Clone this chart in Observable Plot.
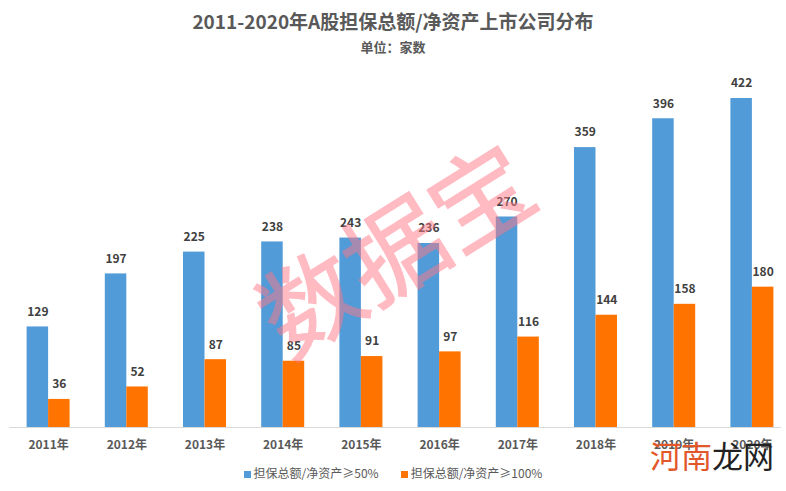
<!DOCTYPE html>
<html><head><meta charset="utf-8">
<script src="https://cdn.jsdelivr.net/npm/d3@7"></script>
<script src="https://cdn.jsdelivr.net/npm/@observablehq/plot@0.6"></script>
<style>
body{margin:0;background:#fff;font-family:"Noto Sans CJK SC","Noto Sans",sans-serif;}
#wrap{position:relative;width:786px;height:491px;overflow:hidden;}
#title{position:absolute;top:7px;left:0;width:786px;text-align:center;font-size:19px;font-weight:bold;color:#595959;}
#sub{position:absolute;top:37px;left:0;width:786px;text-align:center;font-size:13px;font-weight:bold;color:#595959;}
#chart{position:absolute;top:70px;left:0;}
#legend{position:absolute;top:464px;left:0;width:786px;text-align:center;font-size:12px;color:#595959;}
#legend span.sw{display:inline-block;width:7px;height:7px;margin-right:3px;vertical-align:0px;}
#legend .item{display:inline-block;margin:0 11px;}
#wm{position:absolute;left:239px;top:282px;font-size:100px;line-height:1;color:rgb(255,120,135);opacity:0.5;-webkit-text-stroke:1.2px rgb(255,120,135);transform:rotate(-32deg);transform-origin:left top;white-space:nowrap;font-weight:400;}
#wm2{position:absolute;left:650px;top:432px;font-size:31px;white-space:nowrap;}
</style></head>
<body><div id="wrap">
<div id="title">2011-2020年A股担保总额/净资产上市公司分布</div>
<div id="sub">单位：家数</div>
<div id="chart"></div>
<div id="legend"><span class="item"><span class="sw" style="background:#519BD8"></span>担保总额/净资产≥50%</span><span class="item"><span class="sw" style="background:#FF7300"></span>担保总额/净资产≥100%</span></div>
<div id="wm">数据宝</div>
<div id="wm2"><span style="color:#E2582A">河南</span><span style="color:#222">龙网</span></div>
</div>
<script>
const years = ["2011年","2012年","2013年","2014年","2015年","2016年","2017年","2018年","2019年","2020年"];
const over50 = [129,197,225,238,243,236,270,359,396,422];
const over100 = [36,52,87,85,91,97,116,144,158,180];
const seriesNames = ["担保总额/净资产≥50%","担保总额/净资产≥100%"];
const colors = ["#519BD8","#FF7300"];

const data = [];
years.forEach((y,i)=>{
  data.push({year:y, series:seriesNames[0], value:over50[i]});
  data.push({year:y, series:seriesNames[1], value:over100[i]});
});

(function(){
  const el = document.getElementById("chart");
  const x = Plot.scale({x:{type:"band",domain:years,range:[9,791],paddingInner:0.45,paddingOuter:0.225}});
  const sub = Plot.scale({x:{type:"band",domain:seriesNames,range:[0,x.bandwidth],padding:0}});
  const chart = Plot.plot({
    width: 786,
    height: 380,
    marginTop: 20, marginBottom: 23, marginLeft: 0, marginRight: 0,
    style: {fontFamily: '"Noto Sans CJK SC","Noto Sans",sans-serif', background: "transparent", overflow:"visible"},
    x: {type:"linear", domain:[0,786], range:[0,786], axis:null},
    y: {domain: [0, 422], range: [357, 28], axis: null},
    color: {domain: seriesNames, range: colors},
    marks: [
      Plot.rectY(data, {
        x1: d => x.apply(d.year) + sub.apply(d.series),
        x2: d => x.apply(d.year) + sub.apply(d.series) + sub.bandwidth,
        y1: 0, y2: "value", fill: "series"
      }),
      Plot.ruleY([0], {x1: 9, x2: 781, stroke: "#d9d9d9", strokeWidth: 1}),
      Plot.text(data, {
        x: d => x.apply(d.year) + sub.apply(d.series) + sub.bandwidth/2,
        y: "value", text: d => String(d.value), dy: -15,
        fontSize: 12, fontWeight: "bold", fill: "#404040"
      }),
      Plot.text(years, {
        x: d => x.apply(d) + x.bandwidth/2, y: 0, text: d => d, dy: 18,
        fontSize: 12, fontWeight: "bold", fill: "#595959"
      })
    ]
  });
  el.appendChild(chart);
})();
</script>
</body></html>
